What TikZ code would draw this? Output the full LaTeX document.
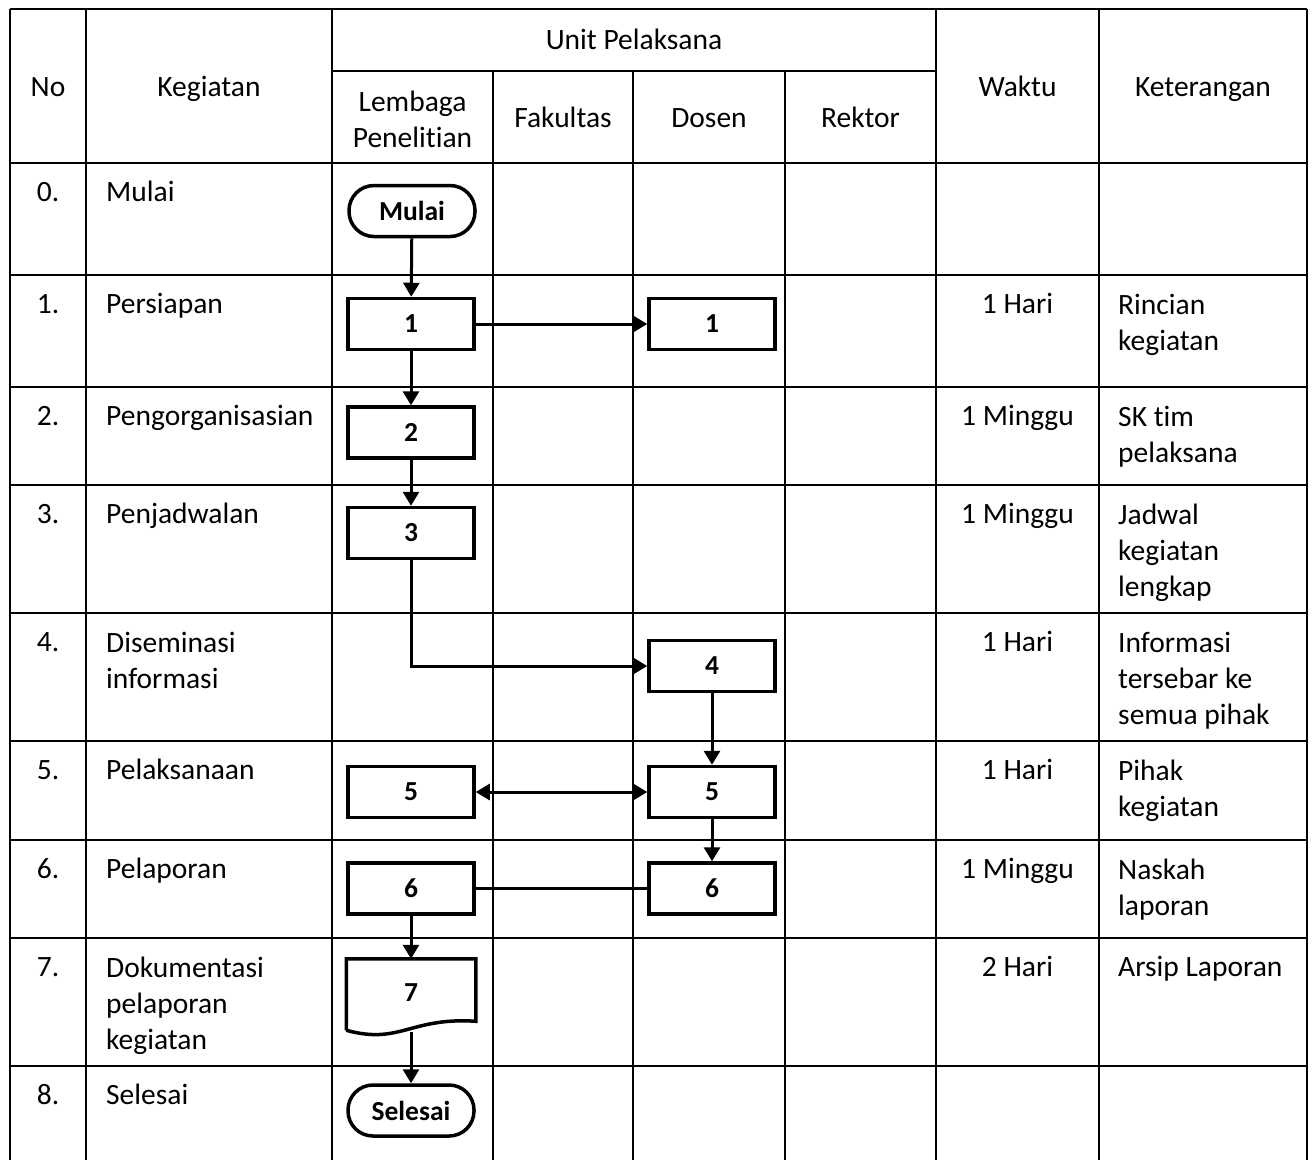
\documentclass[tikz,border=0pt]{standalone}
\usepackage{fontspec}
\setmainfont[Ligatures=NoCommon]{Carlito}
\usetikzlibrary{arrows.meta,positioning,calc}

\newcommand{\cellfont}{\fontsize{29.5}{36}\selectfont}

\begin{document}
\begin{tikzpicture}[
    x=1pt, y=-1pt,
    grid/.style={line width=2pt},
    head/.style={font=\cellfont, align=center, inner sep=0pt},
    capline/.style={text height=19pt, text depth=0pt},
    cell/.style={font=\cellfont, align=left, anchor=north west, inner sep=0pt, execute at begin node=\strut},
    lines/.style={yshift=-6pt},
    mid/.style={cell, anchor=north, align=center},
    proc/.style={draw, line width=3.5pt, minimum width=126pt, minimum height=51pt, inner sep=0pt, font=\fontsize{27.5}{30}\selectfont\bfseries},
    term/.style={proc, rounded corners=25pt},
    flowtip/.tip={Triangle[length=14pt,width=16pt]},
    flow/.style={line width=3pt, -flowtip},
]
\fill[white] (0,0) rectangle (1313,1160);
\useasboundingbox (0,0) rectangle (1313,1160);

% Table lines
\draw[grid] (10,9) -- (1307,9);
\draw[grid] (332,71) -- (936,71);
\draw[grid] (10,163) -- (1307,163) (10,275) -- (1307,275) (10,387) -- (1307,387)
    (10,485) -- (1307,485) (10,613) -- (1307,613) (10,741) -- (1307,741)
    (10,840) -- (1307,840) (10,938) -- (1307,938) (10,1066) -- (1307,1066);
\draw[grid] (10,9) -- (10,1160) (86,9) -- (86,1160) (332,9) -- (332,1160)
    (936,9) -- (936,1160) (1099,9) -- (1099,1160) (1307,9) -- (1307,1160);
\draw[grid] (493,71) -- (493,1160) (633,71) -- (633,1160) (785,71) -- (785,1160);

% Header
\node[head, capline] (hno) at (48,87) {No};
\node[head, capline] (hkeg) at (209,87) {Kegiatan};
\node[head, capline] (hunit) at (634,40) {Unit Pelaksana};
\node[head] (hlem) at (412.5,119) {Lembaga\\Penelitian};
\node[head, capline] (hfak) at (563,118) {Fakultas};
\node[head, capline] (hdos) at (709,118) {Dosen};
\node[head, capline] (hrek) at (860.5,118) {Rektor};
\node[head, capline] (hwak) at (1017.5,87) {Waktu};
\node[head, capline] (hket) at (1203,87) {Keterangan};

% No column
\node[mid] (no0) at (48,176) {0.};
\node[mid] (no1) at (48,288) {1.};
\node[mid] (no2) at (48,400) {2.};
\node[mid] (no3) at (48,498) {3.};
\node[mid] (no4) at (48,626) {4.};
\node[mid] (no5) at (48,754) {5.};
\node[mid] (no6) at (48,853) {6.};
\node[mid] (no7) at (48,951) {7.};
\node[mid] (no8) at (48,1079) {8.};

% Kegiatan column
\node[cell] (keg0) at (106,176) {Mulai};
\node[cell] (keg1) at (106,288) {Persiapan};
\node[cell] (keg2) at (106,400) {Pengorganisasian};
\node[cell] (keg3) at (106,498) {Penjadwalan};
\node[cell, lines] (keg4) at (106,626) {Diseminasi\\informasi};
\node[cell] (keg5) at (106,754) {Pelaksanaan};
\node[cell] (keg6) at (106,853) {Pelaporan};
\node[cell, lines] (keg7) at (106,951) {Dokumentasi\\pelaporan\\kegiatan};
\node[cell] (keg8) at (106,1079) {Selesai};

% Waktu column
\node[mid] (wkt1) at (1017.5,288) {1 Hari};
\node[mid] (wkt2) at (1017.5,400) {1 Minggu};
\node[mid] (wkt3) at (1017.5,498) {1 Minggu};
\node[mid] (wkt4) at (1017.5,626) {1 Hari};
\node[mid] (wkt5) at (1017.5,754) {1 Hari};
\node[mid] (wkt6) at (1017.5,853) {1 Minggu};
\node[mid] (wkt7) at (1017.5,951) {2 Hari};

% Keterangan column
\node[cell, lines] (ket1) at (1118,288) {Rincian\\kegiatan};
\node[cell, lines] (ket2) at (1118,400) {SK tim\\pelaksana};
\node[cell, lines] (ket3) at (1118,498) {Jadwal\\kegiatan\\lengkap};
\node[cell, lines] (ket4) at (1118,626) {Informasi\\tersebar ke\\semua pihak};
\node[cell, lines] (ket5) at (1118,754) {Pihak\\kegiatan};
\node[cell, lines] (ket6) at (1118,853) {Naskah\\laporan};
\node[cell] (ket7) at (1118,951) {Arsip Laporan};

% Flow symbols
\node[term] (mulai) at (412,211) {Mulai};
\node[proc] (lp1) at (411,324) {1};
\node[proc] (ds1) at (712,324) {1};
\node[proc] (lp2) at (411,432.5) {2};
\node[proc] (lp3) at (411,533) {3};
\node[proc] (ds4) at (712,666) {4};
\node[proc] (lp5) at (411,792) {5};
\node[proc] (ds5) at (712,792) {5};
\node[proc] (lp6) at (411,888.5) {6};
\node[proc] (ds6) at (712,888.5) {6};
\node[proc, draw=none, minimum height=70pt] (lp7) at (411,995.5) {\raisebox{5pt}{7}};
\draw[line width=3.5pt] ($(lp7.south west)+(0,-2)$) -- (lp7.north west) -- (lp7.north east)
    -- ($(lp7.south east)+(0,-11)$) .. controls (410,1017) and (400,1045) .. ($(lp7.south west)+(0,-2)$);
\node[term] (selesai) at (411,1110.5) {Selesai};

% Arrows
\draw[flow] (mulai) -- (lp1);
\draw[flow] (lp1) -- (ds1);
\draw[flow] (lp1) -- (lp2);
\draw[flow] (lp2) -- (lp3);
\draw[flow] (lp3.south) |- (ds4.west);
\draw[flow] (ds4) -- (ds5);
\draw[flow, flowtip-flowtip] (lp5) -- (ds5);
\draw[flow] (ds5) -- (ds6);
\draw[line width=3pt] (lp6) -- (ds6);
\draw[flow] (lp6) -- (lp7);
\draw[flow] (lp7.south) -- (selesai);

\end{tikzpicture}
\end{document}
